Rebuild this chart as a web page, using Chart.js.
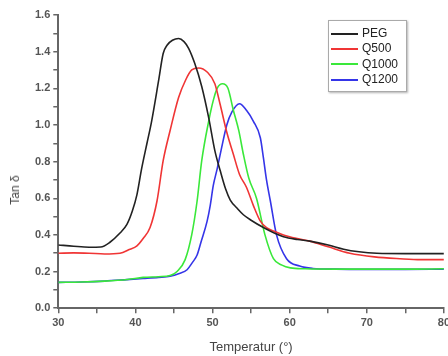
<!DOCTYPE html>
<html lang="de">
<head>
<meta charset="UTF-8">
<title>Tan δ vs Temperatur</title>
<script src="https://cdn.jsdelivr.net/npm/chart.js"></script>
<style>
  html, body {
    margin: 0;
    padding: 0;
    background: #fff;
    overflow: hidden;
  }
  .wrap {
    position: relative;
    width: 453px;
    height: 356px;
  }
  .ylabel {
    position: absolute;
    left: 15px;
    top: 190px;
    transform: translate(-50%, -50%) rotate(-90deg);
    font-family: Arial, "Liberation Sans", sans-serif;
    font-size: 12px;
    color: #444;
    white-space: nowrap;
  }
  .legend {
    position: absolute;
    left: 328px;
    top: 20px;
    width: 77px;
    height: 70px;
    border: 1px solid #aaa;
    box-shadow: 1px 1px 2px rgba(0,0,0,0.3);
    background: #fff;
    font-family: Arial, "Liberation Sans", sans-serif;
    font-size: 12px;
    color: #222;
  }
  .legend div {
    position: absolute;
    left: 2px;
    height: 15px;
    line-height: 15px;
    white-space: nowrap;
  }
  .legend span {
    display: inline-block;
    width: 27px;
    height: 0;
    border-top: 2px solid;
    vertical-align: middle;
    margin-right: 4px;
  }
</style>
</head>
<body>
<div class="wrap">
  <canvas id="tanChart" width="453" height="356"></canvas>
  <div class="ylabel">Tan δ</div>
  <div class="legend" id="legend"></div>
</div>

<script>
  // Serien-Namen und Farben
  var names = ['PEG', 'Q500', 'Q1000', 'Q1200'];
  var colors = ['#222222', '#f03535', '#3ae83a', '#3535e8'];

  // PEG
  var pegTemp = [30, 32, 34, 35.5, 36.7, 38, 38.9, 39.6, 40.2, 40.8, 41.5, 42.1, 43.0, 43.6, 44.1, 44.8, 45.6, 46.3, 46.9, 47.7, 48.6, 49.5, 50.3, 51.0, 51.7, 52.3, 53.2, 54.0, 55.0, 56.6, 58, 59.2, 61, 62.6, 65, 67, 69, 71.3, 75, 80];
  var pegTan = [0.345, 0.338, 0.333, 0.334, 0.36, 0.41, 0.457, 0.53, 0.62, 0.76, 0.90, 1.02, 1.24, 1.39, 1.435, 1.462, 1.472, 1.455, 1.418, 1.335, 1.21, 1.04, 0.86, 0.75, 0.65, 0.59, 0.545, 0.51, 0.48, 0.44, 0.41, 0.39, 0.375, 0.366, 0.345, 0.322, 0.308, 0.30, 0.298, 0.298];

  // Q500
  var q500Temp = [30, 32, 34, 36, 38, 39.2, 40.2, 41.0, 41.9, 42.8, 43.6, 44.5, 45.6, 46.5, 47.3, 48.2, 49.3, 50.3, 51.0, 51.85, 52.7, 53.5, 54.4, 55.3, 56.2, 57, 58, 59.2, 61, 62.6, 65, 67.8, 71, 74.3, 77, 80];
  var q500Tan = [0.30, 0.302, 0.30, 0.296, 0.30, 0.32, 0.34, 0.38, 0.44, 0.585, 0.805, 0.97, 1.15, 1.244, 1.30, 1.311, 1.289, 1.225, 1.11, 0.96, 0.84, 0.73, 0.66, 0.56, 0.475, 0.44, 0.42, 0.40, 0.38, 0.366, 0.335, 0.30, 0.28, 0.27, 0.265, 0.265];

  // Q1000
  var q1000Temp = [30, 33, 36, 39, 41, 43, 44.5, 45.4, 46.45, 47.3, 48.0, 48.6, 49.5, 50.1, 50.6, 51.3, 52.0, 52.7, 53.4, 54.0, 54.7, 55.7, 56.8, 57.9, 59, 60.1, 62, 66, 70, 75, 80];
  var q1000Tan = [0.141, 0.143, 0.148, 0.157, 0.168, 0.172, 0.178, 0.20, 0.265, 0.40, 0.585, 0.805, 1.02, 1.134, 1.20, 1.225, 1.20, 1.08, 0.97, 0.84, 0.71, 0.60, 0.40, 0.27, 0.235, 0.22, 0.215, 0.213, 0.213, 0.213, 0.215];

  // Q1200
  var q1200Temp = [30, 33, 36, 38.9, 41, 43, 44.5, 45.7, 46.7, 47.4, 48.0, 48.5, 49.3, 49.7, 50.1, 50.6, 51.1, 51.85, 52.5, 53.5, 54.4, 55.3, 56.2, 56.6, 57.0, 57.5, 58.3, 59.6, 61.3, 63, 66, 70, 75, 80];
  var q1200Tan = [0.141, 0.143, 0.148, 0.156, 0.162, 0.168, 0.174, 0.19, 0.21, 0.25, 0.29, 0.36, 0.475, 0.56, 0.67, 0.76, 0.86, 1.0, 1.07, 1.116, 1.08, 1.02, 0.93, 0.82, 0.70, 0.585, 0.40, 0.27, 0.23, 0.217, 0.213, 0.212, 0.212, 0.213];

  var temps = [pegTemp, q500Temp, q1000Temp, q1200Temp];
  var tans = [pegTan, q500Tan, q1000Tan, q1200Tan];

  function punkte(t, v) {
    var out = [];
    for (var i = 0; i < t.length; i++) out.push({ x: t[i], y: v[i] });
    return out;
  }

  var datasets = [];
  for (var i = 0; i < names.length; i++) {
    datasets.push({
      label: names[i],
      data: punkte(temps[i], tans[i]),
      borderColor: colors[i],
      borderWidth: 1.6,
      pointRadius: 0,
      cubicInterpolationMode: 'monotone',
      fill: false
    });
  }

  // eigene Legende
  var legend = document.getElementById('legend');
  for (var j = 0; j < names.length; j++) {
    var row = document.createElement('div');
    row.style.top = (5 + j * 15.3) + 'px';
    row.innerHTML = '<span style="border-color:' + colors[j] + '"></span>' + names[j];
    legend.appendChild(row);
  }

  var tickFont = { family: 'Arial, "Liberation Sans", sans-serif', size: 11, weight: 'bold' };

  new Chart(document.getElementById('tanChart').getContext('2d'), {
    type: 'line',
    data: { datasets: datasets },
    options: {
      responsive: false,
      animation: false,
      layout: { padding: { left: 32, top: 15, right: 0, bottom: 1 } },
      plugins: {
        legend: { display: false },
        tooltip: { enabled: false }
      },
      scales: {
        x: {
          type: 'linear',
          min: 30,
          max: 80,
          border: { color: '#666', width: 2 },
          grid: { drawOnChartArea: false, drawTicks: true, tickLength: 5, color: '#666', lineWidth: 1.5 },
          ticks: {
            stepSize: 5,
            color: '#555',
            font: tickFont,
            padding: 3,
            maxRotation: 0,
            callback: function (v) { return v % 10 === 0 ? String(v) : ''; }
          },
          title: {
            display: true,
            text: 'Temperatur (°)',
            color: '#444',
            font: { family: 'Arial, "Liberation Sans", sans-serif', size: 13 },
            padding: { top: 7, bottom: 0 }
          }
        },
        y: {
          min: 0,
          max: 1.6,
          border: { color: '#666', width: 2 },
          grid: { drawOnChartArea: false, drawTicks: true, tickLength: 5, color: '#666', lineWidth: 1.5 },
          ticks: {
            stepSize: 0.1,
            color: '#555',
            font: tickFont,
            padding: 3,
            callback: function (v) {
              var n = Math.round(v * 10);
              return n % 2 === 0 ? (n / 10).toFixed(1) : '';
            }
          }
        }
      }
    }
  });
</script>
</body>
</html>
